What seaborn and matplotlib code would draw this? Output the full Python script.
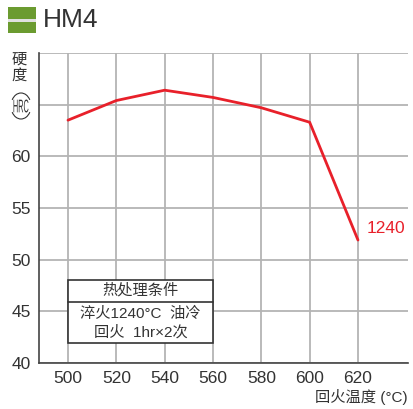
import matplotlib
matplotlib.use("Agg")
import matplotlib.pyplot as plt
import seaborn as sns
import pandas as pd
from matplotlib.patches import Rectangle, Arc, PathPatch
from matplotlib.textpath import TextPath
from matplotlib.font_manager import FontProperties
from matplotlib.transforms import Affine2D

temps = [500, 520, 540, 560, 580, 600, 620]
hardness = [63.5, 65.4, 66.4, 65.7, 64.7, 63.3, 51.9]
xticks = [500, 520, 540, 560, 580, 600, 620]
yticks = [40, 45, 50, 55, 60, 65, 70]
ytick_labels = ["40", "45", "50", "55", "60", "", ""]
title = "HM4"
series_label = "1240"
box_title = "热处理条件"
box_lines = ["淬火1240°C  油冷", "回火  1hr×2次"]
xlabel = "回火温度 (°C)"

sns.set_theme(style="white")
plt.rcParams['font.family'] = ['Liberation Sans', 'Noto Sans CJK SC', 'DejaVu Sans']

TXT = "#333333"
RED = "#e8202a"
GRID = "#b4b4b4"

fig = plt.figure(figsize=(4.13, 4.09), dpi=100)
ax = fig.add_axes([39/413, 1-363/409, (408-39)/413, (363-53)/409])

df = pd.DataFrame({"temp": temps, "hrc": hardness})
sns.lineplot(data=df, x="temp", y="hrc", ax=ax, color=RED, lw=2.0, zorder=5)

ax.set_xlim(488, 640.7)
ax.set_ylim(40, 70)
ax.set_xticks(xticks)
ax.set_xticklabels([str(t) for t in xticks])
ax.set_yticks(yticks)
ax.set_yticklabels(ytick_labels)
ax.grid(True, color=GRID, lw=1.3)
ax.set_axisbelow(True)
ax.tick_params(axis="both", length=0, labelsize=12.5, labelcolor=TXT, pad=6)
ax.set_xlabel("")
ax.set_ylabel("")
for s in ["top", "right"]:
    ax.spines[s].set_visible(False)
for s in ["left", "bottom"]:
    ax.spines[s].set_color("#444444")
    ax.spines[s].set_linewidth(1.2)

# series label
ax.text(temps[-1] + 3.5, 53.0, series_label, color=RED, fontsize=12.5, va="center", ha="left")

# condition box
ax.add_patch(Rectangle((500, 41.94), 60, 48.0 - 41.94, facecolor="white",
                       edgecolor="#333333", lw=1.2, zorder=6))
ax.plot([500, 560], [45.95, 45.95], color="#333333", lw=1.2, zorder=7)
ax.text(530, 47.0, box_title, ha="center", va="center", fontsize=11, color=TXT, zorder=8)
ax.text(530, 44.75, box_lines[0], ha="center", va="center", fontsize=11, color=TXT, zorder=8)
ax.text(530, 42.95, box_lines[1], ha="center", va="center", fontsize=11, color=TXT, zorder=8)

# title
fig.patches.append(Rectangle((8/413, 1-33/409), 28/413, 26/409, transform=fig.transFigure,
                             facecolor="#6b9b30", edgecolor="none"))
fig.patches.append(Rectangle((8/413, 1-21.5/409), 28/413, 3/409, transform=fig.transFigure,
                             facecolor="#e0e0e0", edgecolor="none"))
fig.text(43/413, 1-20/409, title, fontsize=19, color=TXT, va="center", ha="left")

# y label
fig.text(19/413, 1-60/409, "硬", fontsize=11, color=TXT, ha="center", va="center")
fig.text(19/413, 1-76/409, "度", fontsize=11, color=TXT, ha="center", va="center")

# condensed "HRC" inside a circle (drawn in pixel coords)
tp = TextPath((0, 0), "HRC", size=12, prop=FontProperties(family="Liberation Sans"))
bb = tp.get_extents()
cx, cy = 21.0, 409 - 106.0
w_target, h_target = 15.0, 13.0
sx = w_target / bb.width
sy = h_target / bb.height
tr = (Affine2D().translate(-bb.x0 - bb.width / 2, -bb.y0 - bb.height / 2)
      .scale(sx, sy).translate(cx, cy))
path = tr.transform_path(tp)
fig.patches.append(PathPatch(path, transform=None, facecolor=TXT, edgecolor="none"))
fig.patches.append(Arc((21.0/413, 1-106.0/409), 20/413, 26/409, theta1=35, theta2=145,
                       transform=fig.transFigure, color=TXT, lw=0.8))
fig.patches.append(Arc((21.0/413, 1-106.0/409), 20/413, 26/409, theta1=215, theta2=325,
                       transform=fig.transFigure, color=TXT, lw=0.8))

# x label
fig.text(408/413, 1-397/409, xlabel, fontsize=11, color=TXT, ha="right", va="center")

fig.savefig("out.png", dpi=100)
